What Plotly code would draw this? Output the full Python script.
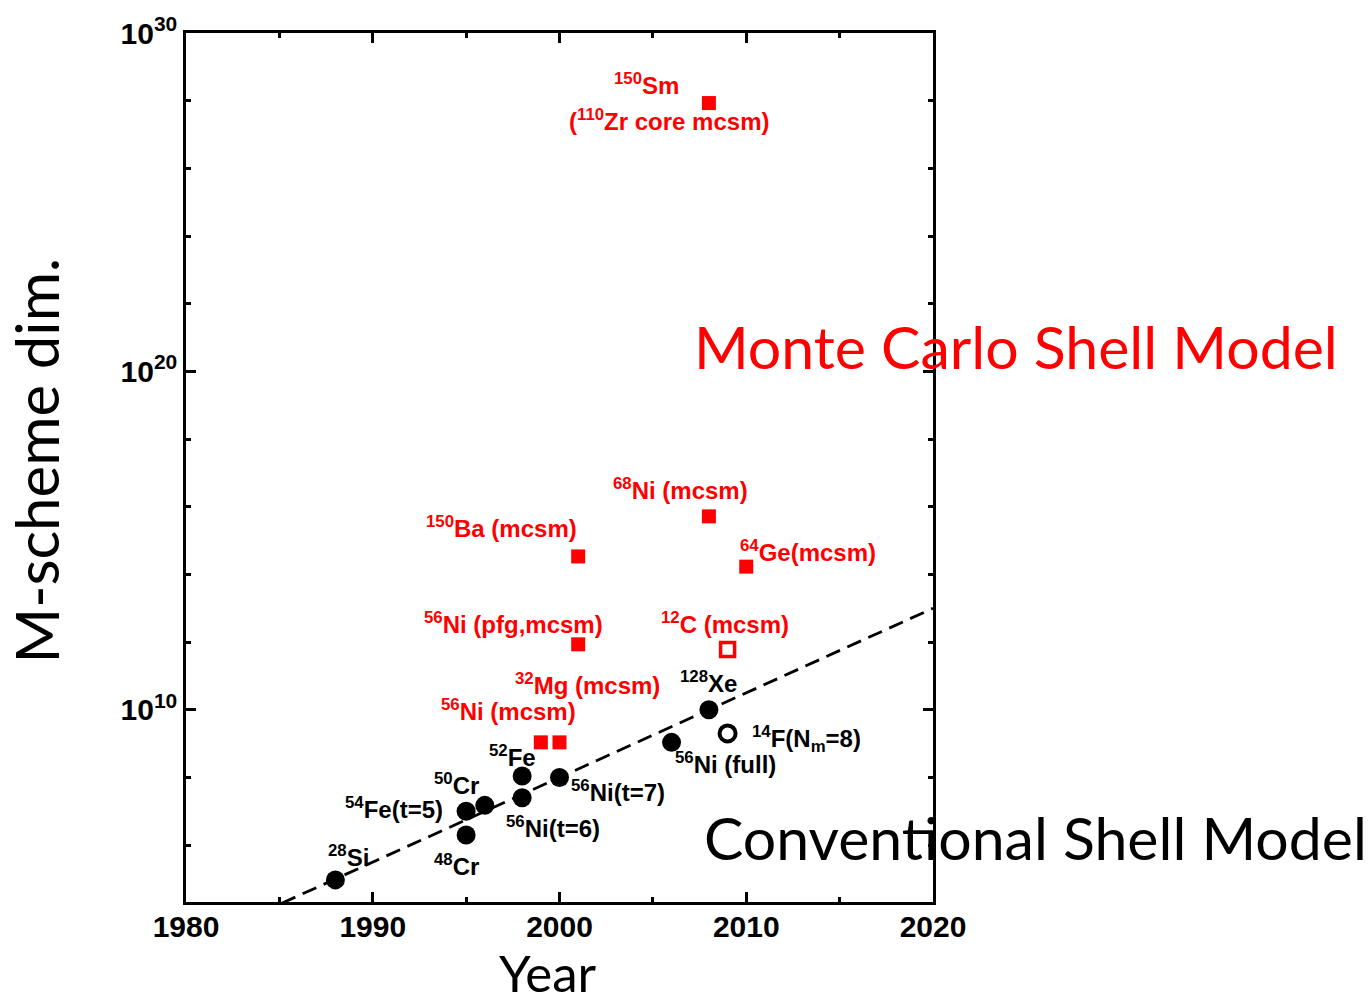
import plotly.graph_objects as go
import math

# ---------------- data ----------------
# Conventional shell model (filled black circles)
conv_years = [1988, 1995, 1995, 1996, 1998, 1998, 2000, 2006, 2008]
conv_dims = [9.4e4, 2.0e6, 1.0e7, 1.5e7, 1.1e8, 2.5e7, 1.0e8, 1.09e9, 1.0e10]
conv_labels = ["<sup>28</sup>Si", "<sup>48</sup>Cr", "<sup>54</sup>Fe(t=5)", "<sup>50</sup>Cr",
               "<sup>52</sup>Fe", "<sup>56</sup>Ni(t=6)", "<sup>56</sup>Ni(t=7)",
               "<sup>56</sup>Ni (full)", "<sup>128</sup>Xe"]

# Open circle
open_c_years = [2009]
open_c_dims = [2.0e9]
open_c_labels = ["<sup>14</sup>F(N<sub>m</sub>=8)"]

# Monte Carlo shell model (filled red squares)
mcsm_years = [1999, 2000, 2001, 2001, 2008, 2010, 2008]
mcsm_dims = [1.09e9, 1.09e9, 8.6e11, 3.4e14, 5.2e15, 1.7e14, 8.5e27]
mcsm_labels = ["<sup>56</sup>Ni (mcsm)", "<sup>32</sup>Mg (mcsm)", "<sup>56</sup>Ni (pfg,mcsm)",
               "<sup>150</sup>Ba (mcsm)", "<sup>68</sup>Ni (mcsm)", "<sup>64</sup>Ge(mcsm)",
               "<sup>150</sup>Sm<br>(<sup>110</sup>Zr core mcsm)"]

# Open red square
open_s_years = [2009]
open_s_dims = [6.0e11]
open_s_labels = ["<sup>12</sup>C (mcsm)"]

# Trend line (dashed)
trend_years = [1984, 2020]
trend_dims = [1e4, 1e13]

y_tick_vals = [1e10, 1e20, 1e30]
y_tick_text = ["10<sup>10</sup>", "10<sup>20</sup>", "10<sup>30</sup>"]
x_tick_vals = [1980, 1990, 2000, 2010, 2020]

# ---------------- label placement (pixel offsets from point, per text line) ----------------
conv_off = [[(13, -24)], [(-10, 30)], [(-72, -3)], [(-28, -21)], [(-10, -20)],
            [(31, 29)], [(58, 14)], [(54, 21)], [(0, -28)]]
open_c_off = [[(79, 6)]]
mcsm_off = [[(-32, -32)], [(28, -58)], [(-65, -21)], [(-77, -29)], [(-28, -27)],
            [(62, -16)], [(-62, -19), (-40, 17)]]
open_s_off = [[(-3, -27)]]

RED = "#ff0000"
LBL_FONT = "Liberation Sans, Arial, sans-serif"
BIG_FONT = "Lato, Open Sans, sans-serif"

fig = go.Figure()

fig.add_trace(go.Scatter(x=trend_years, y=trend_dims, mode="lines",
                         line=dict(color="black", width=2.8, dash="15px,8px"),
                         hoverinfo="skip"))
fig.add_trace(go.Scatter(x=conv_years, y=conv_dims, mode="markers",
                         marker=dict(symbol="circle", size=19, color="black")))
fig.add_trace(go.Scatter(x=open_c_years, y=open_c_dims, mode="markers",
                         marker=dict(symbol="circle-open", size=16, color="black",
                                     line=dict(width=4, color="black"))))
fig.add_trace(go.Scatter(x=mcsm_years, y=mcsm_dims, mode="markers",
                         marker=dict(symbol="square", size=14, color=RED)))
fig.add_trace(go.Scatter(x=open_s_years, y=open_s_dims, mode="markers",
                         marker=dict(symbol="square-open", size=14, color=RED,
                                     line=dict(width=3.5, color=RED))))

annotations = []


def add_labels(years, dims, labels, offsets, color):
    for yr, d, lab, offs in zip(years, dims, labels, offsets):
        lines = lab.split("<br>")
        for line, (dx, dy) in zip(lines, offs):
            annotations.append(dict(x=yr, y=math.log10(d), xref="x", yref="y",
                                    text=line, showarrow=False, xanchor="center",
                                    yanchor="middle", xshift=dx, yshift=-dy,
                                    font=dict(family=LBL_FONT, size=24, color=color,
                                              weight="bold")))


add_labels(conv_years, conv_dims, conv_labels, conv_off, "black")
add_labels(open_c_years, open_c_dims, open_c_labels, open_c_off, "black")
add_labels(mcsm_years, mcsm_dims, mcsm_labels, mcsm_off, RED)
add_labels(open_s_years, open_s_dims, open_s_labels, open_s_off, RED)

# Region labels
annotations.append(dict(text="Monte Carlo Shell Model", xref="paper", yref="paper",
                        x=(692 - 186) / 747, y=(902 - 345) / 872, xanchor="left",
                        yanchor="middle", showarrow=False,
                        font=dict(family=BIG_FONT, size=59, color=RED)))
annotations.append(dict(text="Conventional Shell Model", xref="paper", yref="paper",
                        x=(702 - 186) / 747, y=(902 - 837) / 872, xanchor="left",
                        yanchor="middle", showarrow=False,
                        font=dict(family=BIG_FONT, size=59, color="black")))
# Axis titles
annotations.append(dict(text="Year", xref="paper", yref="paper",
                        x=(548 - 186) / 747, y=(902 - 973) / 872, xanchor="center",
                        yanchor="middle", showarrow=False, borderpad=0,
                        font=dict(family=BIG_FONT, size=51, color="black")))
annotations.append(dict(text="M-scheme dim.", xref="paper", yref="paper",
                        x=(36 - 186) / 747, y=(902 - 459) / 872, xanchor="center",
                        yanchor="middle", showarrow=False, textangle=-90,
                        font=dict(family=BIG_FONT, size=60, color="black")))

tickfont = dict(family=LBL_FONT, size=30, color="black", weight="bold")

fig.update_layout(width=1371, height=1004,
                  margin=dict(l=186, r=438, t=30, b=102),
                  plot_bgcolor="white", paper_bgcolor="white",
                  showlegend=False, annotations=annotations)

fig.update_xaxes(range=[1980, 2020], tickmode="array", tickvals=x_tick_vals,
                 ticks="inside", ticklen=10, tickwidth=2.5, tickcolor="black",
                 showline=True, linewidth=2.5, linecolor="black", mirror="ticks",
                 showgrid=False, zeroline=False, tickfont=tickfont,
                 ticklabelstandoff=-4,
                 minor=dict(dtick=5, tick0=1980, ticks="inside", ticklen=5,
                            tickwidth=2.5, tickcolor="black", showgrid=False))
fig.update_yaxes(type="log", range=[4.32, 30.0], tickmode="array",
                 tickvals=y_tick_vals, ticktext=y_tick_text,
                 ticks="inside", ticklen=10, tickwidth=2.5, tickcolor="black",
                 showline=True, linewidth=2.5, linecolor="black", mirror="ticks",
                 showgrid=False, zeroline=False, tickfont=tickfont,
                 minor=dict(tickmode="array",
                            tickvals=[1e6, 1e8, 1e12, 1e14, 1e16, 1e18,
                                      1e22, 1e24, 1e26, 1e28],
                            ticks="inside", ticklen=5, tickwidth=2.5,
                            tickcolor="black", showgrid=False))

fig.write_html("out.html")
